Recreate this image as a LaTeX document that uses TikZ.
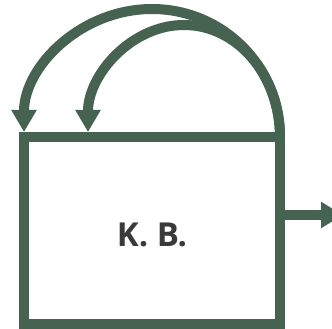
\documentclass[tikz,border=0pt]{standalone}
\usepackage{fontspec}
\setmainfont{Open Sans}
\usetikzlibrary{arrows.meta}
\definecolor{kbgreen}{RGB}{70,98,80}
\definecolor{kbgray}{RGB}{58,58,58}

\begin{document}
\begin{tikzpicture}[x=1pt, y=1pt,
    thickline/.style={color=kbgreen, line width=10pt},
    backarrow/.style={thickline, -{Triangle[length=22pt, width=24pt]}, shorten >=5pt}]
    \useasboundingbox (0, 0) rectangle (332, 329);

    \node[thickline, draw, minimum width=256pt, minimum height=187pt, inner sep=0pt, outer sep=0pt] (box) at (152, 98.5) {};
    \node[text=kbgray, font=\fontsize{33}{40}\selectfont\bfseries] (kbtext) at ([yshift=-4.5pt]box.center) {K. B.};

    \draw[backarrow] (box.north east) arc[start angle=0, end angle=180, radius=128];
    \draw[backarrow] (box.north east) arc[start angle=0, end angle=180, x radius=96, y radius=112];

    \coordinate (exit) at (343, 114);
    \draw[thickline, -{Triangle[length=22pt, width=25pt]}] ([yshift=15.5pt]box.east) -- (exit);
\end{tikzpicture}
\end{document}
